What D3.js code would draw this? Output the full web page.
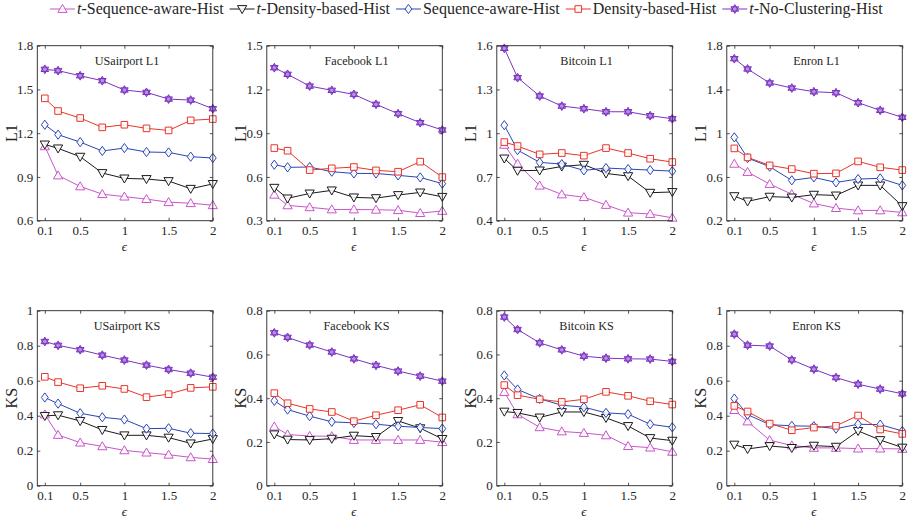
<!DOCTYPE html>
<html>
<head>
<meta charset="utf-8">
<script src="https://cdn.jsdelivr.net/npm/d3@7"></script>
<style>
  html, body { margin: 0; padding: 0; background: #fff; }
  svg { display: block; }
  text { font-family: "Liberation Serif", "Times New Roman", serif; fill: #262626; }
</style>
</head>
<body>
<svg id="chart" width="908" height="522"></svg>
<script>
// ---- data ----
const epsilons = [0.1, 0.25, 0.5, 0.75, 1, 1.25, 1.5, 1.75, 2];
const xTicks = [0.1, 0.5, 1, 1.5, 2];

const seriesNames = [
  "t-Sequence-aware-Hist",
  "t-Density-based-Hist",
  "Sequence-aware-Hist",
  "Density-based-Hist",
  "t-No-Clustering-Hist"
];
const seriesItalicT = [true, true, false, false, true];
const seriesColors = ["#c955c9", "#1a1a1a", "#2a46b5", "#e8342a", "#7a33c2"];
const seriesMarkers = ["triUp", "triDown", "diamond", "square", "hexagram"];

const panelTitles = ["USairport L1", "Facebook L1", "Bitcoin L1", "Enron L1",
                     "USairport KS", "Facebook KS", "Bitcoin KS", "Enron KS"];
const panelYLabels = ["L1", "L1", "L1", "L1", "KS", "KS", "KS", "KS"];

const yTicksUSairportL1 = [0.6, 0.9, 1.2, 1.5, 1.8];
const yTicksFacebookL1 = [0.3, 0.6, 0.9, 1.2, 1.5];
const yTicksBitcoinL1 = [0.4, 0.7, 1, 1.3, 1.6];
const yTicksEnronL1 = [0.2, 0.6, 1, 1.4, 1.8];
const yTicksKS1 = [0, 0.2, 0.4, 0.6, 0.8, 1];
const yTicksKS08 = [0, 0.2, 0.4, 0.6, 0.8];

// rows: t-Sequence-aware, t-Density-based, Sequence-aware, Density-based, t-No-Clustering
const usairportL1 = [
  [1.11, 0.91, 0.835, 0.782, 0.765, 0.748, 0.727, 0.72, 0.706],
  [1.123, 1.096, 1.039, 0.927, 0.89, 0.886, 0.872, 0.819, 0.852],
  [1.258, 1.19, 1.139, 1.078, 1.098, 1.071, 1.068, 1.039, 1.03],
  [1.439, 1.352, 1.304, 1.24, 1.258, 1.233, 1.219, 1.288, 1.297],
  [1.638, 1.629, 1.594, 1.56, 1.496, 1.48, 1.434, 1.427, 1.368]
];
const facebookL1 = [
  [0.478, 0.405, 0.392, 0.377, 0.377, 0.375, 0.372, 0.352, 0.367],
  [0.526, 0.453, 0.487, 0.508, 0.46, 0.455, 0.476, 0.494, 0.464],
  [0.684, 0.666, 0.668, 0.636, 0.624, 0.624, 0.611, 0.597, 0.554],
  [0.798, 0.78, 0.647, 0.659, 0.668, 0.645, 0.636, 0.705, 0.599],
  [1.349, 1.304, 1.223, 1.194, 1.166, 1.098, 1.034, 0.972, 0.922]
];
const bitcoinL1 = [
  [0.92, 0.79, 0.64, 0.58, 0.561, 0.508, 0.455, 0.446, 0.42],
  [0.827, 0.743, 0.745, 0.772, 0.784, 0.724, 0.706, 0.592, 0.597],
  [1.055, 0.884, 0.8, 0.788, 0.745, 0.761, 0.754, 0.747, 0.74],
  [0.939, 0.912, 0.855, 0.864, 0.846, 0.898, 0.864, 0.825, 0.802],
  [1.582, 1.381, 1.255, 1.186, 1.168, 1.147, 1.147, 1.12, 1.099]
];
const enronL1 = [
  [0.72, 0.645, 0.535, 0.442, 0.357, 0.315, 0.294, 0.294, 0.276],
  [0.425, 0.377, 0.42, 0.413, 0.438, 0.431, 0.523, 0.523, 0.334],
  [0.962, 0.773, 0.694, 0.569, 0.596, 0.55, 0.581, 0.587, 0.523],
  [0.861, 0.779, 0.706, 0.672, 0.63, 0.633, 0.742, 0.688, 0.663],
  [1.681, 1.587, 1.459, 1.413, 1.379, 1.37, 1.279, 1.209, 1.145]
];
const usairportKS = [
  [0.407, 0.29, 0.246, 0.225, 0.202, 0.189, 0.177, 0.162, 0.152],
  [0.399, 0.403, 0.37, 0.319, 0.288, 0.288, 0.275, 0.242, 0.267],
  [0.504, 0.469, 0.414, 0.391, 0.378, 0.326, 0.328, 0.3, 0.298],
  [0.622, 0.592, 0.557, 0.571, 0.553, 0.506, 0.523, 0.559, 0.565],
  [0.824, 0.802, 0.777, 0.746, 0.718, 0.689, 0.664, 0.643, 0.62]
];
const facebookKS = [
  [0.27, 0.234, 0.227, 0.226, 0.209, 0.209, 0.209, 0.209, 0.199],
  [0.235, 0.211, 0.209, 0.215, 0.229, 0.223, 0.296, 0.263, 0.214],
  [0.388, 0.348, 0.318, 0.292, 0.287, 0.281, 0.272, 0.266, 0.261],
  [0.423, 0.377, 0.351, 0.337, 0.295, 0.322, 0.345, 0.37, 0.312],
  [0.699, 0.678, 0.643, 0.611, 0.58, 0.55, 0.524, 0.501, 0.478]
];
const bitcoinKS = [
  [0.428, 0.326, 0.267, 0.248, 0.241, 0.23, 0.181, 0.174, 0.155],
  [0.339, 0.333, 0.312, 0.337, 0.337, 0.31, 0.273, 0.218, 0.206],
  [0.504, 0.44, 0.397, 0.368, 0.359, 0.333, 0.327, 0.281, 0.267],
  [0.46, 0.414, 0.395, 0.383, 0.395, 0.429, 0.411, 0.386, 0.371],
  [0.771, 0.714, 0.653, 0.621, 0.592, 0.583, 0.58, 0.579, 0.568]
];
const enronKS = [
  [0.432, 0.367, 0.26, 0.23, 0.216, 0.216, 0.212, 0.212, 0.21],
  [0.235, 0.21, 0.227, 0.216, 0.229, 0.223, 0.313, 0.261, 0.218],
  [0.498, 0.406, 0.349, 0.342, 0.34, 0.326, 0.351, 0.349, 0.313],
  [0.456, 0.424, 0.355, 0.317, 0.332, 0.342, 0.401, 0.321, 0.296],
  [0.866, 0.803, 0.798, 0.719, 0.666, 0.618, 0.58, 0.552, 0.525]
];

const panelData = [usairportL1, facebookL1, bitcoinL1, enronL1,
                   usairportKS, facebookKS, bitcoinKS, enronKS];
const panelYTicks = [yTicksUSairportL1, yTicksFacebookL1, yTicksBitcoinL1, yTicksEnronL1,
                     yTicksKS1, yTicksKS08, yTicksKS08, yTicksKS1];

// ---- layout ----
const svg = d3.select("#chart");
const panelW = 175.5, panelH = 175;
const colX = [37.3, 266.8, 496.8, 726.8];
const rowY = [45.7, 310.7];
const tickLen = 3;
const axisColor = "#262626";

// marker paths centred on (0,0)
function markerPath(kind) {
  const p = d3.path();
  if (kind === "triUp") {
    p.moveTo(0, -4.6); p.lineTo(4.6, 3.4); p.lineTo(-4.6, 3.4); p.closePath();
  } else if (kind === "triDown") {
    p.moveTo(0, 4.6); p.lineTo(4.6, -3.4); p.lineTo(-4.6, -3.4); p.closePath();
  } else if (kind === "diamond") {
    p.moveTo(0, -4.6); p.lineTo(3.4, 0); p.lineTo(0, 4.6); p.lineTo(-3.4, 0); p.closePath();
  } else if (kind === "square") {
    p.rect(-3.3, -3.3, 6.6, 6.6);
  } else if (kind === "hexagram") {
    const r = 4.4;
    for (let t = 0; t < 2; t++) {
      for (let k = 0; k < 3; k++) {
        const a = (t === 0 ? -Math.PI / 2 : Math.PI / 2) + k * 2 * Math.PI / 3;
        const x = r * Math.cos(a), y = r * Math.sin(a);
        if (k === 0) p.moveTo(x, y); else p.lineTo(x, y);
      }
      p.closePath();
    }
  }
  return p.toString();
}

function drawMarker(g, kind, color, x, y) {
  g.append("path")
    .attr("d", markerPath(kind))
    .attr("transform", `translate(${x},${y})`)
    .attr("fill", kind === "hexagram" ? d3.interpolateRgb(color, "#fff")(0.45) : "#fff")
    .attr("fill-opacity", kind === "hexagram" ? 1 : 0.85)
    .attr("stroke", color)
    .attr("stroke-width", 1);
}

panelData.forEach((data, pi) => {
  const col = pi % 4, row = Math.floor(pi / 4);
  const ticks = panelYTicks[pi];
  const g = svg.append("g").attr("transform", `translate(${colX[col]},${rowY[row]})`);

  const x = d3.scaleLinear().domain([0.015, 2]).range([0, panelW]);
  const y = d3.scaleLinear().domain([ticks[0], ticks[ticks.length - 1]]).range([panelH, 0]);

  // bottom & left axes with labels, ticks drawn inward
  const xAxis = d3.axisBottom(x).tickValues(xTicks).tickSizeInner(-tickLen).tickSizeOuter(0)
    .tickPadding(5).tickFormat(d3.format("~g"));
  const yAxis = d3.axisLeft(y).tickValues(ticks).tickSizeInner(-tickLen).tickSizeOuter(0)
    .tickPadding(4).tickFormat(d3.format("~g"));
  const xTop = d3.axisTop(x).tickValues(xTicks).tickSizeInner(-tickLen).tickSizeOuter(0).tickFormat("");
  const yRight = d3.axisRight(y).tickValues(ticks).tickSizeInner(-tickLen).tickSizeOuter(0).tickFormat("");

  const gx = g.append("g").attr("transform", `translate(0,${panelH})`).call(xAxis);
  const gy = g.append("g").call(yAxis);
  const gxt = g.append("g").call(xTop);
  const gyr = g.append("g").attr("transform", `translate(${panelW},0)`).call(yRight);
  [gx, gy, gxt, gyr].forEach(a => {
    a.select(".domain").remove();
    a.selectAll("line").attr("stroke", axisColor).attr("stroke-width", 0.8);
    a.selectAll("text").attr("font-family", "Liberation Serif, serif")
      .attr("font-size", 13).attr("fill", axisColor);
  });

  // series lines and markers
  data.forEach((vals, si) => {
    const color = seriesColors[si];
    const line = d3.line().x((d, i) => x(epsilons[i])).y(d => y(d));
    g.append("path").datum(vals).attr("d", line)
      .attr("fill", "none").attr("stroke", color).attr("stroke-width", 1);
    vals.forEach((v, i) => drawMarker(g, seriesMarkers[si], color, x(epsilons[i]), y(v)));
  });

  // frame
  g.append("rect").attr("width", panelW).attr("height", panelH)
    .attr("fill", "none").attr("stroke", axisColor).attr("stroke-width", 0.9);

  // title inside
  g.append("text").attr("x", panelW / 2 + 2).attr("y", 19.5)
    .attr("text-anchor", "middle").attr("font-size", 12.2).text(panelTitles[pi]);

  // axis labels
  g.append("text").attr("transform", `translate(${-20.5},${panelH / 2}) rotate(-90)`)
    .attr("text-anchor", "middle").attr("font-size", 16).text(panelYLabels[pi]);
  g.append("text").attr("x", x(1)).attr("y", panelH + 30)
    .attr("text-anchor", "middle").attr("font-size", 13).attr("font-style", "italic").text("ϵ");
});

// ---- legend ----
const legend = svg.append("g").attr("transform", "translate(0,9)");
let lx = 50;
seriesNames.forEach((name, si) => {
  const color = seriesColors[si];
  const it = legend.append("g");
  it.append("line").attr("x1", lx).attr("x2", lx + 25).attr("y1", 0).attr("y2", 0)
    .attr("stroke", color).attr("stroke-width", 1);
  drawMarker(it, seriesMarkers[si], color, lx + 12.5, 0);
  const t = it.append("text").attr("x", lx + 27).attr("y", 5).attr("font-size", 16);
  if (seriesItalicT[si]) {
    t.append("tspan").attr("font-style", "italic").text("t");
    t.append("tspan").text(name.slice(1));
  } else {
    t.text(name);
  }
  lx += 27 + t.node().getComputedTextLength() + 6;
});
</script>
</body>
</html>
